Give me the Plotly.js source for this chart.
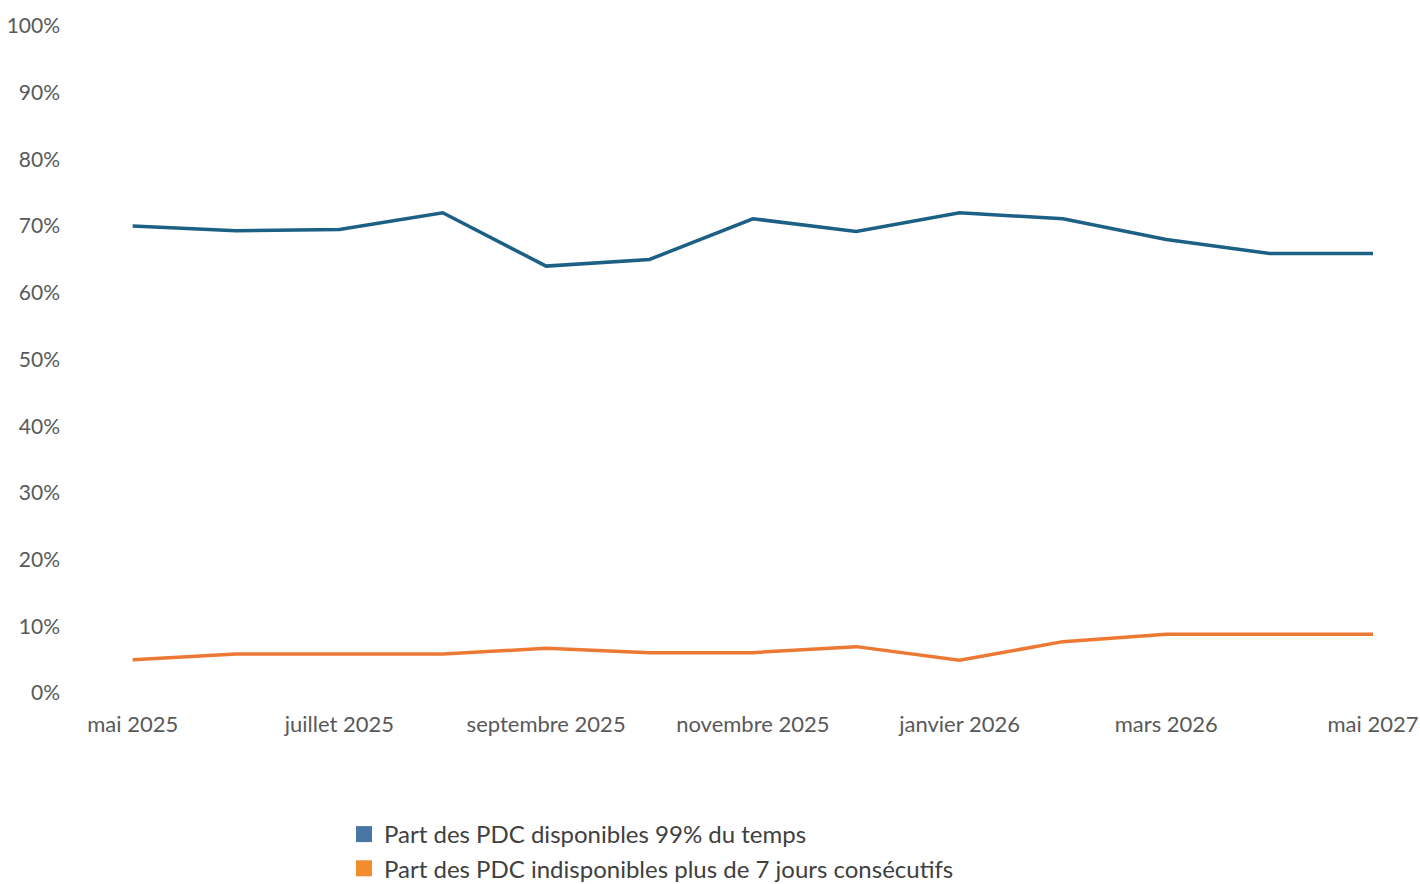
<!DOCTYPE html>
<html>
<head>
<meta charset="utf-8">
<script src="https://cdn.plot.ly/plotly-3.0.1.min.js"></script>
<style>html,body{margin:0;padding:0;background:#fff}#chart{width:1420px;height:884px}</style>
</head>
<body>
<div id="chart"></div>
<script>
const months = ["mai 2025","juin 2025","juillet 2025","août 2025","septembre 2025","octobre 2025","novembre 2025","décembre 2025","janvier 2026","février 2026","mars 2026","avril 2026","mai 2027"];
const tickLabels = ["mai 2025","juillet 2025","septembre 2025","novembre 2025","janvier 2026","mars 2026","mai 2027"];
const dispo99 = [70.0, 69.3, 69.5, 72.0, 64.0, 65.0, 71.1, 69.2, 72.0, 71.1, 68.0, 65.9, 65.9];
const indispo7j = [5.0, 5.85, 5.85, 5.85, 6.7, 6.05, 6.05, 6.95, 4.9, 7.7, 8.8, 8.8, 8.8];
const seriesNames = ["Part des PDC disponibles 99% du temps","Part des PDC indisponibles plus de 7 jours consécutifs"];

const xIdx = months.map((m,i)=>i);
const tickVals = tickLabels.map(t => months.indexOf(t));

const font = "Lato, 'Open Sans', sans-serif";
const traces = [
  {x:xIdx, y:dispo99, mode:'lines', line:{color:'#1C6085', width:3.5}, showlegend:false, hoverinfo:'y', name:seriesNames[0]},
  {x:xIdx, y:indispo7j, mode:'lines', line:{color:'#EC7834', width:3.5}, showlegend:false, hoverinfo:'y', name:seriesNames[1]},
  {x:[null], y:[null], mode:'markers', marker:{symbol:'square', size:24, color:'#4A76A6'}, name:seriesNames[0], legendgroup:'a'},
  {x:[null], y:[null], mode:'markers', marker:{symbol:'square', size:24, color:'#F28C2D'}, name:seriesNames[1], legendgroup:'b'}
];

const layout = {
  width:1420, height:884,
  margin:{l:81, r:47, t:26, b:191, autoexpand:false},
  paper_bgcolor:'#fff', plot_bgcolor:'#fff',
  font:{family:font, color:'#595959', size:21},
  xaxis:{range:[-0.5,12], tickmode:'array', tickvals:tickVals, ticktext:tickLabels, tickangle:0,
         showgrid:false, zeroline:false, showline:false, ticks:'', ticklabelstandoff:16, automargin:false,
         tickfont:{family:font, size:22, color:'#595959'}},
  yaxis:{range:[0,100], dtick:10, ticksuffix:'%', showgrid:false, zeroline:false, showline:false, automargin:false,
         ticks:'', ticklabelstandoff:20, tickfont:{family:font, size:21, color:'#595959'}},
  showlegend:true,
  legend:{xref:'container', yref:'container', x:344/1420, y:1-812/884, xanchor:'left', yanchor:'top',
          orientation:'v', font:{family:font, size:24, color:'#404040'}, tracegroupgap:0,
          bgcolor:'rgba(0,0,0,0)'}
};
Plotly.newPlot('chart', traces, layout, {displayModeBar:false, staticPlot:true});
</script>
</body>
</html>
